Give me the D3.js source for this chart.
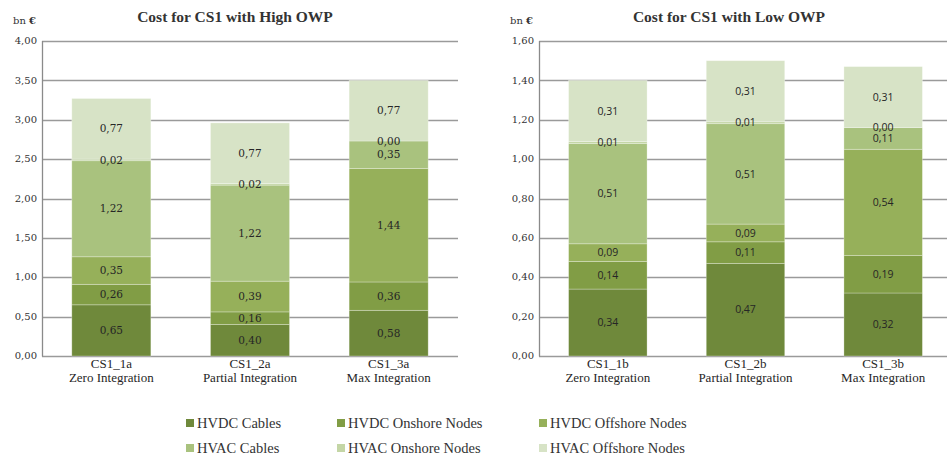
<!DOCTYPE html>
<html><head><meta charset="utf-8">
<script src="https://cdn.jsdelivr.net/npm/d3@7"></script>
<style>body{margin:0;background:#fff}svg{display:block}</style>
</head><body>
<svg id="c" width="947" height="457"></svg>
<script>
// ---- data ----
const seriesNames = ["HVDC Cables","HVDC Onshore Nodes","HVDC Offshore Nodes","HVAC Cables","HVAC Onshore Nodes","HVAC Offshore Nodes"];
const seriesColors = ["#6f893b","#819d45","#96b05a","#a9c27e","#c4d6a6","#d7e3c6"];

const categoriesHigh = ["CS1_1a","CS1_2a","CS1_3a"];
const categoriesLow = ["CS1_1b","CS1_2b","CS1_3b"];
const scenarioNames = ["Zero Integration","Partial Integration","Max Integration"];

const hvdcCablesHigh   = [0.65,0.40,0.58];
const hvdcOnshoreHigh  = [0.26,0.16,0.36];
const hvdcOffshoreHigh = [0.35,0.39,1.44];
const hvacCablesHigh   = [1.22,1.22,0.35];
const hvacOnshoreHigh  = [0.02,0.02,0.00];
const hvacOffshoreHigh = [0.77,0.77,0.77];

const hvdcCablesLow   = [0.34,0.47,0.32];
const hvdcOnshoreLow  = [0.14,0.11,0.19];
const hvdcOffshoreLow = [0.09,0.09,0.54];
const hvacCablesLow   = [0.51,0.51,0.11];
const hvacOnshoreLow  = [0.01,0.01,0.00];
const hvacOffshoreLow = [0.31,0.31,0.31];

const ticksHigh = [0,0.5,1,1.5,2,2.5,3,3.5,4];
const ticksLow = [0,0.2,0.4,0.6,0.8,1.0,1.2,1.4,1.6];

const titleHigh = "Cost for CS1 with High OWP";
const titleLow = "Cost for CS1 with Low OWP";

// ---- drawing ----
const svg = d3.select("#c");
const fmt = v => d3.format(".2f")(v).replace(".", ",");

function drawChart(opt){
  const g = svg.append("g");
  const x = d3.scaleBand().domain(opt.categories).range([opt.x0, opt.x1]).paddingInner(0.43).paddingOuter(0.215);
  const y = d3.scaleLinear().domain([0, opt.max]).range([356, 41]);

  // gridlines
  g.append("g").selectAll("line").data(opt.ticks).join("line")
    .attr("x1", opt.x0).attr("x2", opt.gridEnd)
    .attr("y1", d => Math.round(y(d)) + 0.5).attr("y2", d => Math.round(y(d)) + 0.5)
    .attr("stroke", "#9a9a9a").attr("stroke-width", 1.3);
  // y axis line
  g.append("line").attr("x1", opt.x0 + 0.5).attr("x2", opt.x0 + 0.5)
    .attr("y1", y(opt.max)).attr("y2", y(0) + 0.5)
    .attr("stroke", "#8a8a8a").attr("stroke-width", 1.3);
  // tick labels
  g.append("g").selectAll("text").data(opt.ticks).join("text")
    .attr("x", opt.x0 - 5).attr("y", d => y(d)).attr("dy", "0.32em")
    .attr("text-anchor", "end")
    .attr("font-family", "DejaVu Serif").attr("font-size", 10).attr("fill", "#333")
    .text(fmt);
  // unit
  const u = g.append("text").attr("x", opt.x0 - 29).attr("y", 24)
    .attr("font-family", "DejaVu Serif").attr("font-size", 10).attr("fill", "#333");
  u.append("tspan").text("bn ");
  u.append("tspan").attr("font-weight", "bold").text("€");
  // title
  g.append("text").attr("x", opt.titleX).attr("y", 22).attr("text-anchor", "middle")
    .attr("font-family", "Liberation Serif").attr("font-weight", "bold").attr("font-size", 15.5)
    .attr("fill", "#333").text(opt.title);

  // stacked data
  const rows = opt.categories.map((c, i) => {
    const o = {cat: c};
    opt.series.forEach((s, k) => o[seriesNames[k]] = s[i]);
    return o;
  });
  const stack = d3.stack().keys(seriesNames)(rows);
  const layers = g.append("g").selectAll("g").data(stack).join("g")
    .attr("fill", (d, i) => seriesColors[i]);
  layers.selectAll("rect").data(d => d).join("rect")
    .attr("x", d => x(d.data.cat)).attr("width", x.bandwidth())
    .attr("y", d => y(d[1])).attr("height", d => y(d[0]) - y(d[1]))
    .attr("stroke", "#ffffff").attr("stroke-opacity", 0.35).attr("stroke-width", 0.8);
  const lbl = g.append("g");
  stack.forEach(layer => {
    layer.forEach(d => {
      lbl.append("text")
        .attr("x", x(d.data.cat) + x.bandwidth() / 2)
        .attr("y", (y(d[0]) + y(d[1])) / 2).attr("dy", "0.35em")
        .attr("text-anchor", "middle")
        .attr("font-family", opt.labelFont).attr("font-size", opt.labelSize).attr("fill", "#262626")
        .text(fmt(d[1] - d[0]));
    });
  });
  // x labels
  const xl = g.append("g").selectAll("text").data(opt.categories).join("text")
    .attr("x", d => x(d) + x.bandwidth() / 2).attr("y", 368)
    .attr("text-anchor", "middle")
    .attr("font-family", "Liberation Serif").attr("font-size", 13).attr("fill", "#262626");
  xl.append("tspan").text(d => d);
  xl.append("tspan").attr("x", d => x(d) + x.bandwidth() / 2).attr("dy", 14)
    .text((d, i) => scenarioNames[i]);
}

drawChart({
  categories: categoriesHigh, x0: 42, x1: 458, gridEnd: 458, max: 4, ticks: ticksHigh,
  title: titleHigh, titleX: 235, labelFont: "DejaVu Serif", labelSize: 10.5,
  series: [hvdcCablesHigh, hvdcOnshoreHigh, hvdcOffshoreHigh, hvacCablesHigh, hvacOnshoreHigh, hvacOffshoreHigh]
});
drawChart({
  categories: categoriesLow, x0: 539, x1: 952, gridEnd: 947, max: 1.6, ticks: ticksLow,
  title: titleLow, titleX: 729, labelFont: "Open Sans", labelSize: 10.5,
  series: [hvdcCablesLow, hvdcOnshoreLow, hvdcOffshoreLow, hvacCablesLow, hvacOnshoreLow, hvacOffshoreLow]
});

// legend
const legX = [186, 337, 539];
const legend = svg.append("g").selectAll("g").data(seriesNames).join("g")
  .attr("transform", (d, i) => `translate(${legX[i % 3]},${i < 3 ? 423 : 448})`);
legend.append("rect").attr("x", 0).attr("y", -4).attr("width", 8).attr("height", 8)
  .attr("fill", (d, i) => seriesColors[i]);
legend.append("text").attr("x", 11).attr("y", 0).attr("dy", "0.35em")
  .attr("font-family", "Liberation Serif").attr("font-size", 14.5).attr("fill", "#333")
  .text(d => d);
</script>
</body></html>
